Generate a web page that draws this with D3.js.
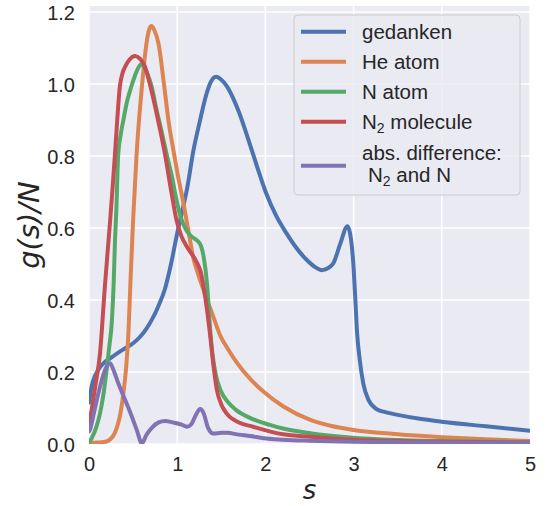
<!DOCTYPE html>
<html><head><meta charset="utf-8">
<script src="https://cdn.jsdelivr.net/npm/d3@7"></script>
<style>html,body{margin:0;padding:0;background:#fff;}svg{display:block;}</style>
</head><body>
<script>
// ---- data ----
const xTicks = [0, 1, 2, 3, 4, 5];
const yTicks = [0.0, 0.2, 0.4, 0.6, 0.8, 1.0, 1.2];

const sGed = [0,0.03,0.07,0.12,0.18,0.24,0.32,0.41,0.5,0.58,0.65,0.71,0.79,0.86,0.93,1.0,1.06,1.12,1.18,1.26,1.32,1.38,1.44,1.5,1.56,1.63,1.7,1.79,1.9,2.01,2.12,2.24,2.35,2.47,2.56,2.64,2.72,2.77,2.85,2.93,2.96,3.0,3.02,3.04,3.07,3.11,3.17,3.26,3.35,3.5,3.75,4.0,4.5,5.0];
const gGed = [0.115,0.16,0.19,0.212,0.228,0.238,0.252,0.266,0.28,0.298,0.32,0.344,0.385,0.43,0.5,0.585,0.65,0.72,0.81,0.9,0.962,1.005,1.02,1.012,0.995,0.963,0.922,0.858,0.775,0.696,0.635,0.585,0.545,0.511,0.492,0.483,0.49,0.502,0.557,0.605,0.585,0.49,0.40,0.307,0.233,0.168,0.122,0.097,0.089,0.081,0.07,0.062,0.049,0.037];

const sHe = [0,0.1,0.2,0.26,0.3,0.33,0.36,0.39,0.42,0.445,0.47,0.5,0.54,0.6,0.65,0.68,0.71,0.74,0.79,0.85,0.9,0.956,1.01,1.07,1.145,1.18,1.24,1.31,1.4,1.49,1.58,1.67,1.83,1.98,2.2,2.51,2.75,3.0,3.5,4.0,4.5,5.0];
const gHe = [0.003,0.004,0.007,0.018,0.035,0.057,0.09,0.141,0.21,0.298,0.45,0.622,0.807,0.993,1.11,1.15,1.161,1.15,1.11,1.0,0.9,0.817,0.743,0.67,0.567,0.52,0.47,0.42,0.36,0.3,0.262,0.228,0.18,0.145,0.105,0.067,0.05,0.039,0.027,0.019,0.013,0.008];

const sN = [0,0.03,0.08,0.125,0.165,0.2,0.23,0.26,0.28,0.295,0.31,0.33,0.36,0.39,0.43,0.48,0.54,0.59,0.64,0.71,0.76,0.82,0.88,0.94,0.99,1.04,1.09,1.145,1.2,1.24,1.27,1.3,1.34,1.37,1.4,1.44,1.49,1.58,1.67,1.83,2.05,2.2,2.51,2.96,3.5,4.0,5.0];
const gN = [0.004,0.016,0.045,0.085,0.14,0.206,0.27,0.344,0.45,0.567,0.65,0.8,0.86,0.9,0.95,0.993,1.035,1.055,1.04,0.993,0.935,0.872,0.805,0.743,0.68,0.63,0.6,0.58,0.57,0.562,0.55,0.52,0.44,0.33,0.25,0.19,0.15,0.115,0.094,0.072,0.053,0.043,0.03,0.018,0.011,0.008,0.005];

const sN2 = [0,0.01,0.07,0.125,0.18,0.21,0.24,0.27,0.295,0.32,0.35,0.38,0.41,0.46,0.52,0.58,0.635,0.69,0.75,0.8,0.86,0.92,0.994,1.05,1.11,1.22,1.27,1.31,1.37,1.41,1.45,1.5,1.56,1.7,1.86,2.2,2.51,3.0,3.5,4.0,5.0];
const gN2 = [0.055,0.067,0.159,0.252,0.437,0.53,0.622,0.72,0.807,0.9,0.993,1.03,1.048,1.068,1.078,1.07,1.048,1.0,0.937,0.88,0.807,0.72,0.62,0.576,0.548,0.505,0.475,0.42,0.31,0.22,0.15,0.11,0.085,0.06,0.048,0.027,0.02,0.012,0.008,0.006,0.004];

const sDiff = [0,0.01,0.05,0.105,0.16,0.2,0.24,0.27,0.33,0.41,0.48,0.54,0.6,0.65,0.72,0.79,0.86,0.95,1.05,1.11,1.16,1.21,1.26,1.3,1.35,1.41,1.5,1.56,1.7,1.83,1.98,2.2,2.5,3.0,4.0,5.0];
const gDiff = [0.035,0.039,0.08,0.14,0.19,0.215,0.224,0.21,0.17,0.122,0.08,0.04,0.002,0.025,0.047,0.06,0.064,0.06,0.054,0.048,0.055,0.08,0.097,0.085,0.045,0.029,0.031,0.031,0.026,0.022,0.016,0.012,0.009,0.006,0.004,0.003];

const seriesNames = ["gedanken", "He atom", "N atom", "N2 molecule", "abs. difference"];
const seriesColors = ["#4C72B0", "#DD8452", "#55A868", "#C44E52", "#8172B3"];

// ---- layout ----
const W = 549, H = 506;
const L = 89, R = 530, T = 6, B = 444;
const svg = d3.select("body").append("svg").attr("width", W).attr("height", H);

const x = d3.scaleLinear().domain([0, 5]).range([L, R]);
const y = d3.scaleLinear().domain([0, 1.2167]).range([B, T]);

svg.append("rect").attr("x", L).attr("y", T).attr("width", R - L).attr("height", B - T).attr("fill", "#EAEAF2");

// grid
svg.append("g").selectAll("line").data(xTicks).join("line")
  .attr("x1", d => x(d)).attr("x2", d => x(d)).attr("y1", T).attr("y2", B)
  .attr("stroke", "#fff").attr("stroke-width", 1.5);
svg.append("g").selectAll("line").data(yTicks).join("line")
  .attr("y1", d => y(d)).attr("y2", d => y(d)).attr("x1", L).attr("x2", R)
  .attr("stroke", "#fff").attr("stroke-width", 1.5);

// axes (tick labels only, seaborn darkgrid style)
const tickFont = "'Liberation Sans', Arial, sans-serif";
const xAxis = svg.append("g").attr("transform", `translate(0,${B})`)
  .call(d3.axisBottom(x).tickValues(xTicks).tickFormat(d3.format("d")).tickSize(0).tickPadding(8));
const yAxis = svg.append("g").attr("transform", `translate(${L},0)`)
  .call(d3.axisLeft(y).tickValues(yTicks).tickFormat(d3.format(".1f")).tickSize(0).tickPadding(14));
[xAxis, yAxis].forEach(a => {
  a.select(".domain").remove();
  a.selectAll("text").attr("font-family", tickFont).attr("font-size", 20).attr("fill", "#262626");
});
xAxis.selectAll("text").attr("dy", "0.95em");
yAxis.selectAll("text").attr("dy", "0.36em");

// clip
svg.append("clipPath").attr("id", "clip").append("rect")
  .attr("x", L).attr("y", T).attr("width", R - L).attr("height", B - T);

const line = d3.line().x(d => x(d[0])).y(d => y(d[1])).curve(d3.curveMonotoneX);
const data = [d3.zip(sGed, gGed), d3.zip(sHe, gHe), d3.zip(sN, gN), d3.zip(sN2, gN2), d3.zip(sDiff, gDiff)];
const plotG = svg.append("g").attr("clip-path", "url(#clip)");
data.forEach((d, i) => {
  plotG.append("path").datum(d).attr("d", line).attr("fill", "none")
    .attr("stroke", seriesColors[i]).attr("stroke-width", 4)
    .attr("stroke-linejoin", "round").attr("stroke-linecap", "round");
});

// axis labels
svg.append("text").attr("x", (L + R) / 2).attr("y", 499).attr("text-anchor", "middle")
  .attr("font-family", "'DejaVu Sans', sans-serif").attr("font-style", "italic")
  .attr("font-size", 26).attr("fill", "#262626").text("s");
svg.append("text").attr("transform", `translate(39,${(T + B) / 2}) rotate(-90)`)
  .attr("text-anchor", "middle")
  .attr("font-family", "'DejaVu Sans', sans-serif").attr("font-style", "italic")
  .attr("font-size", 29).attr("fill", "#262626").text("g(s)/N");

// legend
const lg = svg.append("g");
lg.append("rect").attr("x", 294).attr("y", 15).attr("width", 226).attr("height", 180)
  .attr("rx", 4).attr("fill", "#EAEAF2").attr("fill-opacity", 0.8).attr("stroke", "#cccccc").attr("stroke-width", 1);
const rowsY = [31.7, 61.7, 91.7, 121.7, 165.7];
const legFont = "'Liberation Sans', Arial, sans-serif";
rowsY.forEach((ry, i) => {
  lg.append("line").attr("x1", 301).attr("x2", 346).attr("y1", ry).attr("y2", ry)
    .attr("stroke", seriesColors[i]).attr("stroke-width", 4);
});
function legText(xp, yp) {
  return lg.append("text").attr("x", xp).attr("y", yp).attr("font-family", legFont)
    .attr("font-size", 20.5).attr("fill", "#262626");
}
legText(362, rowsY[0] + 7).text(seriesNames[0]);
legText(362, rowsY[1] + 7).text(seriesNames[1]);
legText(362, rowsY[2] + 7).text(seriesNames[2]);
const t4 = legText(362, rowsY[3] + 7);
t4.append("tspan").text("N");
t4.append("tspan").attr("font-size", 14).attr("dy", 4).text("2");
t4.append("tspan").attr("dy", -4).text(" molecule");
legText(362, 159.5).text("abs. difference:");
const t5 = legText(368, 181.7);
t5.append("tspan").text("N");
t5.append("tspan").attr("font-size", 14).attr("dy", 4).text("2");
t5.append("tspan").attr("dy", -4).text(" and N");
</script>
</body></html>
